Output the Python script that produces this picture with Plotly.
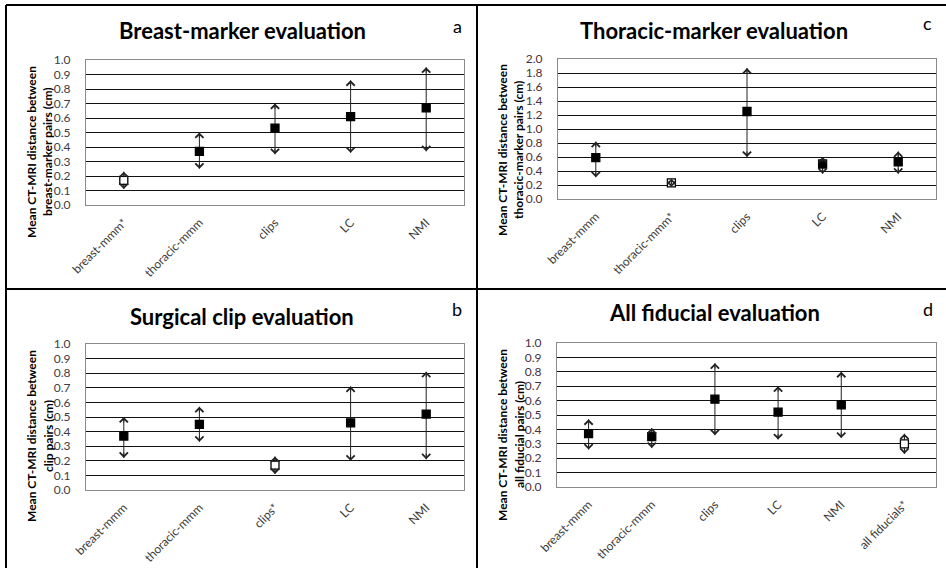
import plotly.graph_objects as go

W, H = 946, 568

# ---------------- data ----------------
a_title = "Breast-marker evaluation"
a_letter = "a"
a_ylabel = ["Mean CT-MRI distance between", "breast-marker pairs (cm)"]
a_cats = ["breast-mmm*", "thoracic-mmm", "clips", "LC", "NMI"]
a_mean = [0.17, 0.37, 0.53, 0.61, 0.67]
a_upper = [0.23, 0.50, 0.70, 0.86, 0.95]
a_lower = [0.11, 0.25, 0.35, 0.36, 0.37]
a_ticks = [0.0, 0.1, 0.2, 0.3, 0.4, 0.5, 0.6, 0.7, 0.8, 0.9, 1.0]

c_title = "Thoracic-marker evaluation"
c_letter = "c"
c_ylabel = ["Mean CT-MRI distance between", "thoracic-marker pairs (cm)"]
c_cats = ["breast-mmm", "thoracic-mmm*", "clips", "LC", "NMI"]
c_mean = [0.59, 0.23, 1.25, 0.50, 0.53]
c_upper = [0.82, 0.29, 1.87, 0.60, 0.68]
c_lower = [0.31, 0.17, 0.60, 0.36, 0.36]
c_ticks = [0.0, 0.2, 0.4, 0.6, 0.8, 1.0, 1.2, 1.4, 1.6, 1.8, 2.0]

b_title = "Surgical clip evaluation"
b_letter = "b"
b_ylabel = ["Mean CT-MRI distance between", "clip pairs (cm)"]
b_cats = ["breast-mmm", "thoracic-mmm", "clips*", "LC", "NMI"]
b_mean = [0.37, 0.45, 0.17, 0.46, 0.52]
b_upper = [0.50, 0.57, 0.23, 0.71, 0.81]
b_lower = [0.22, 0.33, 0.11, 0.20, 0.21]
b_ticks = [0.0, 0.1, 0.2, 0.3, 0.4, 0.5, 0.6, 0.7, 0.8, 0.9, 1.0]

d_title = "All fiducial evaluation"
d_letter = "d"
d_ylabel = ["Mean CT-MRI distance between", "all fiducial pairs (cm)"]
d_cats = ["breast-mmm", "thoracic-mmm", "clips", "LC", "NMI", "all fiducials*"]
d_mean = [0.37, 0.35, 0.61, 0.52, 0.57, 0.30]
d_upper = [0.47, 0.41, 0.86, 0.70, 0.80, 0.37]
d_lower = [0.26, 0.27, 0.36, 0.33, 0.34, 0.23]
d_ticks = [0.0, 0.1, 0.2, 0.3, 0.4, 0.5, 0.6, 0.7, 0.8, 0.9, 1.0]

# ---------------- layout geometry (pixels) ----------------
panels = [
    dict(ax="", title=a_title, letter=a_letter, ylabel=a_ylabel, cats=a_cats, mean=a_mean,
         upper=a_upper, lower=a_lower, ticks=a_ticks, box=(86, 464, 60, 205),
         tpos=(242, 31), lpos=(457, 26), ypos=((31, 47), 152), tickcol="#3c3c46"),
    dict(ax="2", title=c_title, letter=c_letter, ylabel=c_ylabel, cats=c_cats, mean=c_mean,
         upper=c_upper, lower=c_lower, ticks=c_ticks, box=(558, 936, 59, 199),
         tpos=(714, 30), lpos=(927, 23), ypos=((502, 518), 150), tickcol="#4a3040"),
    dict(ax="3", title=b_title, letter=b_letter, ylabel=b_ylabel, cats=b_cats, mean=b_mean,
         upper=b_upper, lower=b_lower, ticks=b_ticks, box=(86, 464, 344, 490),
         tpos=(242, 316), lpos=(457, 309), ypos=((31, 48), 436), tickcol="#3c3c46"),
    dict(ax="4", title=d_title, letter=d_letter, ylabel=d_ylabel, cats=d_cats, mean=d_mean,
         upper=d_upper, lower=d_lower, ticks=d_ticks, box=(557, 936, 343, 487),
         tpos=(714, 312), lpos=(928, 309), ypos=((502, 519), 435), tickcol="#4a3040"),
]

def px(x):
    return x / W

def py(y):
    return 1 - y / H

FONT = "Lato"
fig = go.Figure()
annotations = []
shapes = []

for p in panels:
    xa = "x" + p["ax"]
    ya = "y" + p["ax"]
    cats = p["cats"]
    up = [u - m for u, m in zip(p["upper"], p["mean"])]
    dn = [m - l for m, l in zip(p["mean"], p["lower"])]
    fills = ["white" if c.endswith("*") else "black" for c in cats]
    fig.add_trace(go.Scatter(
        x=cats, y=p["mean"], mode="markers", xaxis=xa, yaxis=ya,
        marker=dict(symbol="square", size=8, color=fills, line=dict(color="black", width=1.3)),
        error_y=dict(type="data", symmetric=False, array=up, arrayminus=dn,
                     color="#222222", thickness=1, width=0),
        showlegend=False, hoverinfo="skip",
    ))
    # arrowheads at both ends of every interval
    for c, u, l in zip(cats, p["upper"], p["lower"]):
        for yv, off in ((u, 7), (l, -7)):
            annotations.append(dict(
                x=c, y=yv, xref=xa, yref=ya, ax=0, ay=off, text="",
                showarrow=True, arrowhead=4, arrowsize=1.6, arrowwidth=1,
                arrowcolor="#222222",
            ))
    x0, x1, y0, y1 = p["box"]
    ticks = p["ticks"]
    axis_x = dict(domain=[px(x0), px(x1)], anchor=ya, type="category",
                  range=[-0.5, len(cats) - 0.5], tickangle=-45, showgrid=False,
                  showline=True, mirror=True, linecolor="#8a8a8a", linewidth=1,
                  ticks="", ticklabelstandoff=5, automargin=False,
                  tickfont=dict(family=FONT, size=12, color="#3c3c3c"), fixedrange=True)
    axis_y = dict(domain=[py(y1), py(y0)], anchor=xa, range=[ticks[0], ticks[-1]],
                  tickvals=ticks, ticktext=["%.1f" % t for t in ticks],
                  showgrid=True, gridcolor="#111111", gridwidth=1, zeroline=False,
                  showline=True, mirror=True, linecolor="#8a8a8a", linewidth=1,
                  ticks="", ticklabelstandoff=12, automargin=False,
                  tickfont=dict(family=FONT, size=12, color=p["tickcol"]), fixedrange=True)
    fig.update_layout(**{"xaxis" + p["ax"]: axis_x, "yaxis" + p["ax"]: axis_y})
    annotations.append(dict(text="<b>" + p["title"] + "</b>", x=px(p["tpos"][0]), y=py(p["tpos"][1]),
                            xref="paper", yref="paper", showarrow=False,
                            font=dict(family=FONT, size=22, color="black"),
                            xanchor="center", yanchor="middle"))
    annotations.append(dict(text=p["letter"], x=px(p["lpos"][0]), y=py(p["lpos"][1]),
                            xref="paper", yref="paper", showarrow=False,
                            font=dict(family=FONT, size=18, color="black"),
                            xanchor="center", yanchor="middle"))
    for line_text, lx in zip(p["ylabel"], p["ypos"][0]):
        annotations.append(dict(text="<b>" + line_text + "</b>", x=px(lx), y=py(p["ypos"][1]),
                                xref="paper", yref="paper", showarrow=False, textangle=-90,
                                font=dict(family=FONT, size=12, color="black"),
                                xanchor="center", yanchor="middle"))

# panel frame lines
frame = [(6, 5, 946, 5), (6, 5, 6, 568), (477, 5, 477, 568), (6, 289, 946, 289)]
for (xa0, ya0, xa1, ya1) in frame:
    shapes.append(dict(type="line", xref="paper", yref="paper",
                       x0=px(xa0), y0=py(ya0), x1=px(xa1), y1=py(ya1),
                       line=dict(color="black", width=2)))

fig.update_layout(width=W, height=H, margin=dict(l=0, r=0, t=0, b=0),
                  paper_bgcolor="white", plot_bgcolor="white",
                  annotations=annotations, shapes=shapes, showlegend=False)

fig.write_html("out.html", config={"displayModeBar": False},
               post_script="document.body.style.margin='0';document.body.style.overflow='hidden';")
